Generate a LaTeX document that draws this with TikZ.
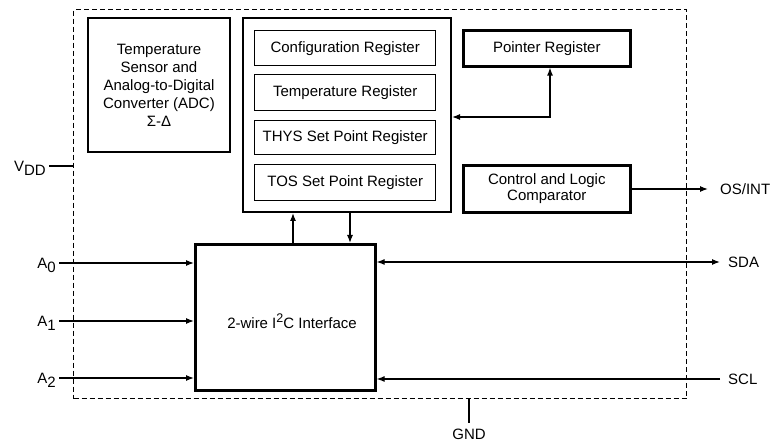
\documentclass[tikz,border=0pt]{standalone}
\usepackage{fontspec}
\setmainfont{Liberation Sans}
\usetikzlibrary{arrows.meta,calc}
\begin{document}
\begin{tikzpicture}[x=1pt,y=-1pt,
  every node/.style={font=\fontsize{15}{18}\selectfont},
  box/.style={draw,line width=#1,inner sep=0pt,anchor=north west,align=center},
  conn/.style={line width=1.2pt},
  tip/.style={-{Latex[length=8pt,width=6pt]}},
  tips/.style={{Latex[length=8pt,width=6pt]}-{Latex[length=8pt,width=6pt]}},
  pin/.style={inner sep=0pt}]
\useasboundingbox (0,0) rectangle (777,443);

% outer dashed chip outline
\node[draw,line width=1.2pt,dash pattern=on 5pt off 3pt,inner sep=0pt,anchor=north west,
      minimum width=613,minimum height=389] (chip) at (73,9) {};

% blocks
\node[box=2pt,minimum width=142,minimum height=134,text depth=-4pt] (adc) at (87,17)
  {Temperature\\Sensor and\\Analog-to-Digital\\Converter (ADC)\\Σ-Δ};
\node[box=2pt,minimum width=208,minimum height=194] (regs) at (242,17) {};
\node[box=1.4pt,minimum width=181,minimum height=35] (cfg) at (254,30) {Configuration Register};
\node[box=1.4pt,minimum width=181,minimum height=36] (temp) at (254,74) {Temperature Register};
\node[box=1.4pt,minimum width=181,minimum height=34] (thys) at (254,120) {THYS Set Point Register};
\node[box=1.4pt,minimum width=181,minimum height=36] (tos) at (254,164) {TOS Set Point Register};
\node[box=2.6pt,minimum width=167,minimum height=36] (ptr) at (462,29) {Pointer Register};
\node[box=2.6pt,minimum width=167,minimum height=47,font=\fontsize{15}{16}\selectfont] (ctl) at (462,164)
  {Control and Logic\\Comparator};
\node[box=2.6pt,minimum width=180,minimum height=146] (iface) at (194,243) {};
\node (iftext) at (292,321) {2-wire I\raisebox{6pt}{\fontsize{12.5}{12.5}\selectfont 2}C Interface};

% pins
\node[pin,anchor=east] (vdd) at (46,166) {V\raisebox{-4pt}[0pt][0pt]{DD}};
\node[pin,anchor=east] (a0) at (56,263) {A\raisebox{-4pt}[0pt][0pt]{0}};
\node[pin,anchor=east] (a1) at (56,321) {A\raisebox{-4pt}[0pt][0pt]{1}};
\node[pin,anchor=east] (a2) at (56,378) {A\raisebox{-4pt}[0pt][0pt]{2}};
\node[pin,anchor=west] (sda) at (728,262) {SDA};
\node[pin,anchor=west] (scl) at (728,379) {SCL};
\node[pin,anchor=west] (osint) at (720,189) {OS/INT};
\node[pin,anchor=north,inner ysep=6pt] (gnd) at (469,423) {GND};

\coordinate (xu) at (293,0);
\coordinate (xd) at (350,0);
\coordinate (xg) at (469,0);
\coordinate (xp) at (550,0);
\coordinate (xr) at (720,0);
\coordinate (xl) at (59,0);
\coordinate (xo) at (708,0);
\coordinate (yp) at (0,117);

% connectors
\draw[conn] ([xshift=3pt]vdd.east) -- (chip.west |- vdd);
\draw[conn,tip] (a0 -| xl) -- (iface.west |- a0);
\draw[conn,tip] (a1 -| xl) -- (iface.west |- a1);
\draw[conn,tip] (a2 -| xl) -- (iface.west |- a2);
\draw[conn,tips] (iface.east |- sda) -- (sda -| xr);
\draw[conn,tip] (scl -| xr) -- (iface.east |- scl);
\draw[conn,tip] (ctl.east |- osint) -- (osint -| xo);
\draw[conn] (chip.south -| xg) -- (gnd.north);
\draw[conn,tip] (iface.north -| xu) -- (regs.south -| xu);
\draw[conn,tip] (regs.south -| xd) -- (iface.north -| xd);
\draw[conn,tips] (regs.east |- yp) -| (ptr.south -| xp);
\end{tikzpicture}
\end{document}
